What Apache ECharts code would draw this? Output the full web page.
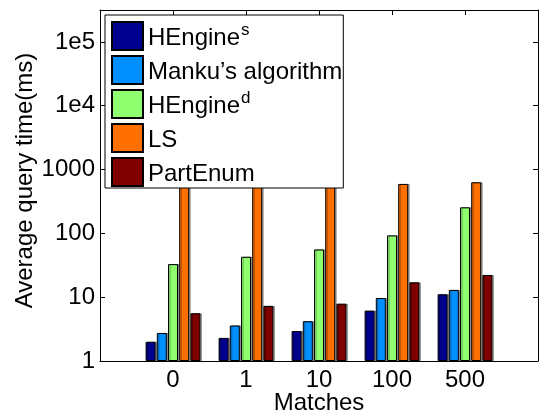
<!DOCTYPE html>
<html>
<head>
<meta charset="utf-8">
<style>
  html, body { margin: 0; padding: 0; background: #fff; }
  #chart { width: 540px; height: 413px; }
</style>
<script src="https://cdn.jsdelivr.net/npm/echarts@6/dist/echarts.min.js"></script>
</head>
<body>
<div id="chart"></div>
<script>
// Number of matches per query (x categories)
const categories = ['0', '1', '10', '100', '500'];

// Average query time (ms) per method
const seriesNames = ['HEngine^s', 'Manku\u2019s algorithm', 'HEngine^d', 'LS', 'PartEnum'];
const hengineS  = [2.0, 2.3, 2.95, 6.15, 11.1];
const manku     = [2.75, 3.6, 4.2, 9.7, 13.0];
const hengineD  = [33, 43, 56, 93, 256];
const ls        = [610, 575, 595, 595, 632];
const partEnum  = [5.6, 7.3, 7.9, 17.1, 22.3];
const seriesValues = [hengineS, manku, hengineD, ls, partEnum];
const seriesColors = ['#00008F', '#008FFF', '#8FFF70', '#FF7000', '#800000'];

// Log-axis tick labels, one per decade
const yTickLabels = ['1', '10', '100', '1000', '1e4', '1e5'];
const yMax = Math.pow(10, 5.5);

// Pad the category axis with an empty slot on each side
const axisCats = [''].concat(categories, ['']);

const FONT = '"Liberation Sans", Arial, Helvetica, sans-serif';

function logLabel(value) {
  const e = Math.log10(value);
  const r = Math.round(e);
  if (Math.abs(e - r) > 1e-6) return '';
  return yTickLabels[r] !== undefined ? yTickLabels[r] : '';
}

// "Name^x" -> rich text with a superscript
function legendText(name) {
  const i = name.indexOf('^');
  if (i < 0) return '{b|' + name + '}';
  return '{b|' + name.slice(0, i) + '}{sup|' + name.slice(i + 1) + '}';
}

const axisLineStyle = { show: true, lineStyle: { color: '#000', width: 1 } };
const tickInside = { show: true, inside: true, length: 5, lineStyle: { color: '#000', width: 1 } };

const series = seriesNames.map((name, k) => ({
  name: name,
  type: 'bar',
  xAxisIndex: 0,
  yAxisIndex: 0,
  barWidth: 10,
  barGap: '12%',
  data: [null].concat(seriesValues[k], [null]),
  itemStyle: {
    color: seriesColors[k],
    borderColor: '#000',
    borderWidth: 1,
    shadowColor: 'rgba(0,0,0,0.35)',
    shadowOffsetX: 1.5,
    shadowBlur: 0
  },
  emphasis: { disabled: true }
}));

const chart = echarts.init(document.getElementById('chart'), null, { renderer: 'canvas' });
chart.setOption({
  animation: false,
  backgroundColor: '#fff',
  textStyle: { fontFamily: FONT, color: '#000' },
  color: seriesColors,
  grid: { left: 100, top: 10, width: 438, height: 351, containLabel: false, outerBoundsMode: 'none' },
  legend: {
    orient: 'vertical',
    left: 105,
    top: 15,
    padding: [6, 1, 1, 6],
    itemWidth: 31,
    itemHeight: 28,
    itemGap: 4,
    backgroundColor: '#fff',
    borderColor: '#000',
    borderWidth: 1,
    borderRadius: 0,
    selectedMode: false,
    data: seriesNames.map(n => ({ name: n, icon: 'rect' })),
    itemStyle: { shadowColor: 'transparent', shadowOffsetX: 0 },
    formatter: legendText,
    textStyle: {
      fontFamily: FONT,
      color: '#000',
      rich: {
        b: { fontSize: 24, fontFamily: FONT, color: '#000', lineHeight: 28, verticalAlign: 'bottom' },
        sup: { fontSize: 17, fontFamily: FONT, color: '#000', lineHeight: 28, verticalAlign: 'top', padding: [0, 0, 0, 1] }
      }
    }
  },
  xAxis: [
    {
      type: 'category',
      position: 'bottom',
      data: axisCats,
      boundaryGap: false,
      axisLine: axisLineStyle,
      axisTick: tickInside,
      axisLabel: { fontSize: 24, fontFamily: FONT, color: '#000', margin: 7, interval: 0 },
      name: 'Matches',
      nameLocation: 'middle',
      nameGap: 30,
      nameMoveOverlap: false,
      nameTextStyle: { fontSize: 24, fontFamily: FONT, color: '#000' },
      splitLine: { show: false }
    },
    {
      type: 'category',
      position: 'top',
      data: axisCats,
      boundaryGap: false,
      axisLine: axisLineStyle,
      axisTick: tickInside,
      axisLabel: { show: false },
      splitLine: { show: false }
    }
  ],
  yAxis: [
    {
      type: 'log',
      logBase: 10,
      min: 1,
      max: yMax,
      position: 'left',
      axisLine: axisLineStyle,
      axisTick: tickInside,
      minorTick: { show: false },
      axisLabel: { fontSize: 24, fontFamily: FONT, color: '#000', margin: 5, formatter: logLabel, showMaxLabel: false },
      name: 'Average query time(ms)',
      nameLocation: 'middle',
      nameGap: 63,
      nameMoveOverlap: false,
      nameRotate: 90,
      nameTextStyle: { fontSize: 24, fontFamily: FONT, color: '#000', padding: [0, 0, 0, 10] },
      splitLine: { show: false }
    },
    {
      type: 'log',
      logBase: 10,
      min: 1,
      max: yMax,
      position: 'right',
      axisLine: axisLineStyle,
      axisTick: tickInside,
      axisLabel: { show: false },
      splitLine: { show: false }
    }
  ],
  series: series
});
</script>
</body>
</html>
